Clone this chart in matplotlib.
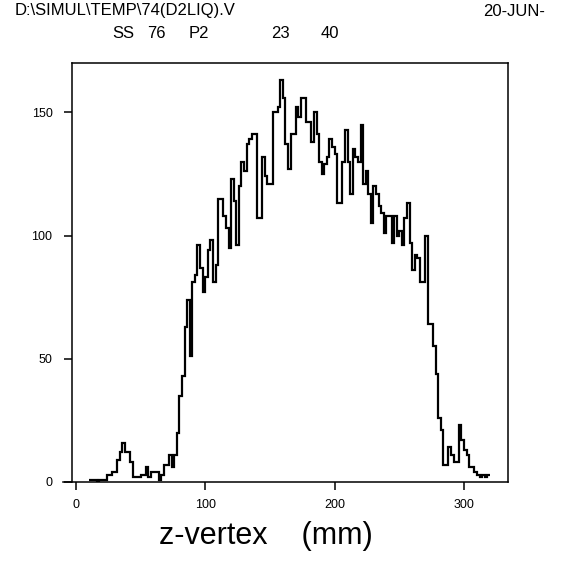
import numpy as np
import matplotlib.pyplot as plt

plt.rcParams['font.family'] = ['Liberation Sans', 'DejaVu Sans']

# histogram of z-vertex, 2 mm bins starting at 10 mm
bin_start = 10
bin_width = 2
counts = [
    1, 1, 1, 0, 1, 1, 1, 3, 3, 4,          # 10-28
    4, 9, 12, 16, 12, 12, 8, 2, 2, 2,      # 30-48
    3, 3, 6, 2, 4, 4, 4, 1, 3, 7,          # 50-68
    7, 11, 6, 11, 20, 35, 43, 63, 74, 51,  # 70-88
    81, 84, 96, 87, 77, 83, 94, 98, 81, 88,        # 90-108
    115, 115, 108, 103, 95, 123, 114, 96, 120, 130,  # 110-128
    126, 137, 139, 141, 141, 107, 107, 132, 124, 121,  # 130-148
    121, 150, 150, 152, 163, 156, 137, 127, 141, 141,  # 150-168
    152, 148, 156, 156, 146, 146, 138, 150, 141, 130,  # 170-188
    125, 129, 132, 139, 136, 133, 113, 113, 130, 143,  # 190-208
    130, 117, 135, 132, 130, 145, 121, 126, 117, 105,  # 210-228
    120, 117, 112, 109, 101, 108, 108, 97, 108, 100,   # 230-248
    102, 96, 107, 113, 97, 86, 92, 91, 81, 81,         # 250-268
    100, 64, 64, 55, 44, 26, 21, 7, 7, 14,             # 270-288
    11, 8, 8, 23, 17, 13, 11, 6, 6, 4,                 # 290-308
    3, 2, 3, 2, 3,                                     # 310-318
]

header_left = "D:\\SIMUL\\TEMP\\74(D2LIQ).V"
header_right = "20-JUN-"
run_labels = ["SS", "76", "P2", "23", "40"]
run_label_x = [112, 147, 189, 271, 321]  # pixel positions in the figure
x_ticks = [0, 100, 200, 300]
y_ticks = [0, 50, 100, 150]

W, H = 561, 564
fig = plt.figure(figsize=(W / 100, H / 100), dpi=100)
ax = fig.add_axes([72 / W, 1 - 482 / H, (508 - 72) / W, (482 - 63) / H])

edges = bin_start + bin_width * np.arange(len(counts) + 1)
ax.stairs(counts, edges, baseline=None, color='black', lw=1.6)

ax.set_xlim(-3, 334)
ax.set_ylim(0, 170)
ax.set_xticks(x_ticks)
ax.set_yticks(y_ticks)
ax.tick_params(direction='out', length=6, width=1.1, labelsize=9, pad=6)
ax.tick_params(axis='y', pad=8)
for s in ax.spines.values():
    s.set_linewidth(1.1)
# the original's x axis line runs a little past the left frame
ax.spines['bottom'].set_bounds(-10, 334)

# header lines
fig.text(15 / W, 1 - 11 / H, header_left, fontsize=12, va='center', ha='left')
fig.text(483 / W, 1 - 11 / H, header_right, fontsize=12, va='center', ha='left')
for lab, px in zip(run_labels, run_label_x):
    fig.text(px / W, 1 - 33 / H, lab, fontsize=12, va='center', ha='left')

fig.text(266 / W, 1 - 536 / H, "z-vertex    (mm)", fontsize=22, ha='center', va='center')

fig.savefig('out.png', dpi=100)
